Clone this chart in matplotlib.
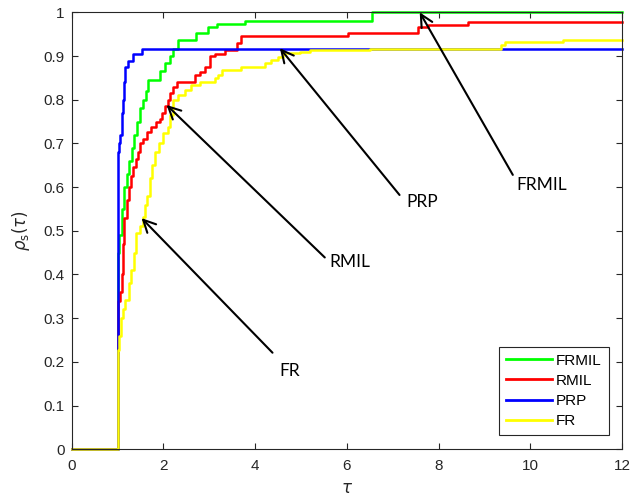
import matplotlib
matplotlib.use("Agg")
import matplotlib.pyplot as plt

# performance profile data (tau, rho), steps-post
frmil_tau = [0, 1.0, 1.04, 1.09, 1.15, 1.2, 1.25, 1.31, 1.36, 1.42, 1.49, 1.56, 1.62, 1.67,
             1.92, 2.03, 2.14, 2.21, 2.32, 2.72, 2.98, 3.16, 3.78, 6.56, 12]
frmil_rho = [0, 0.45, 0.49, 0.55, 0.60, 0.63, 0.66, 0.69, 0.72, 0.75, 0.78, 0.80, 0.82, 0.845,
             0.865, 0.883, 0.90, 0.915, 0.937, 0.952, 0.966, 0.973, 0.98, 1.0, 1.0]

rmil_tau = [0, 1.0, 1.06, 1.09, 1.11, 1.15, 1.2, 1.24, 1.29, 1.34, 1.4, 1.45, 1.5, 1.56, 1.65,
            1.74, 1.85, 1.92, 1.98, 2.03, 2.1, 2.14, 2.21, 2.29, 2.69, 2.8, 2.9, 3.01, 3.12,
            3.34, 3.6, 3.7, 6.03, 7.55, 7.77, 8.64, 12]
rmil_rho = [0, 0.34, 0.36, 0.40, 0.47, 0.53, 0.57, 0.60, 0.625, 0.647, 0.665, 0.68, 0.70, 0.71,
            0.725, 0.738, 0.75, 0.757, 0.77, 0.785, 0.80, 0.815, 0.83, 0.841, 0.857, 0.864,
            0.875, 0.90, 0.905, 0.914, 0.93, 0.946, 0.952, 0.966, 0.971, 0.978, 0.978]

prp_tau = [0, 1.0, 1.04, 1.06, 1.09, 1.1, 1.12, 1.14, 1.16, 1.22, 1.33, 1.525, 12]
prp_rho = [0, 0.68, 0.70, 0.72, 0.735, 0.77, 0.80, 0.84, 0.876, 0.889, 0.905, 0.917, 0.917]

fr_tau = [0, 1.0, 1.03, 1.07, 1.12, 1.17, 1.24, 1.29, 1.35, 1.41, 1.48, 1.55, 1.6, 1.65, 1.7,
          1.76, 1.82, 1.9, 2.0, 2.1, 2.14, 2.21, 2.32, 2.47, 2.61, 2.8, 3.12, 3.2, 3.27, 3.7,
          4.21, 4.35, 4.5, 4.6, 4.97, 5.19, 6.5, 9.37, 9.45, 10.71, 12]
fr_rho = [0, 0.227, 0.26, 0.30, 0.32, 0.342, 0.38, 0.41, 0.45, 0.495, 0.51, 0.532, 0.56, 0.58,
          0.62, 0.65, 0.68, 0.70, 0.723, 0.738, 0.765, 0.80, 0.81, 0.822, 0.833, 0.841, 0.849,
          0.857, 0.868, 0.875, 0.883, 0.89, 0.898, 0.906, 0.91, 0.914, 0.917, 0.925, 0.931,
          0.937, 0.937]

# arrows: label, tip, tail, text position
labels = ["FRMIL", "PRP", "RMIL", "FR"]
tips = [(7.59, 1.0), (4.54, 0.918), (2.07, 0.788), (1.525, 0.529)]
tails = [(9.62, 0.628), (7.15, 0.582), (5.52, 0.439), (4.38, 0.221)]
text_pos = [(9.70, 0.605), (7.31, 0.566), (5.61, 0.428), (4.54, 0.179)]

plt.rcParams['font.family'] = ['Liberation Sans', 'DejaVu Sans']
plt.rcParams['mathtext.fontset'] = 'dejavusans'

fig = plt.figure(figsize=(6.34, 5.03), dpi=100)
ax = fig.add_axes([0.113, 0.1068, 0.868, 0.8687])

ax.plot(frmil_tau, frmil_rho, drawstyle='steps-post', color=(0, 1, 0), lw=1.8, label='FRMIL', clip_on=False)
ax.plot(rmil_tau, rmil_rho, drawstyle='steps-post', color=(1, 0, 0), lw=1.8, label='RMIL', clip_on=False)
ax.plot(prp_tau, prp_rho, drawstyle='steps-post', color=(0, 0, 1), lw=1.8, label='PRP', clip_on=False)
ax.plot(fr_tau, fr_rho, drawstyle='steps-post', color=(1, 1, 0), lw=1.8, label='FR', clip_on=False)

for lab, tip, tail, tp in zip(labels, tips, tails, text_pos):
    ax.annotate('', xy=tip, xytext=tail,
                arrowprops=dict(arrowstyle='->', color='k', lw=1.5, mutation_scale=22,
                                shrinkA=0, shrinkB=0))
    ax.text(tp[0], tp[1], lab, family='Lato', fontsize=12.5, ha='left', va='center')

ax.set_xlim(0, 12)
ax.set_ylim(0, 1)
ax.set_xticks(range(0, 13, 2))
ax.set_yticks([i / 10 for i in range(11)])
ax.set_yticklabels(['0', '0.1', '0.2', '0.3', '0.4', '0.5', '0.6', '0.7', '0.8', '0.9', '1'])
ax.tick_params(direction='in', top=True, right=True, labelsize=11, colors='#262626',
               length=4, width=0.8)
ax.tick_params(axis='x', pad=7)
ax.tick_params(axis='y', pad=5)
for s in ax.spines.values():
    s.set_color('#262626')
    s.set_linewidth(0.8)

ax.set_xlabel(r'$\tau$', fontsize=12, color='#262626', labelpad=6)
ax.set_ylabel(r'$\rho_{\rm s}(\tau)$', fontsize=12, color='#262626', labelpad=8)

leg = ax.legend(loc='lower right', bbox_to_anchor=(0.976, 0.033), borderaxespad=0,
                fancybox=False, framealpha=1, edgecolor='#262626', fontsize=11,
                handlelength=3.0, handletextpad=0.3, labelspacing=0.4, borderpad=0.45)
leg.get_frame().set_linewidth(0.8)
for line in leg.get_lines():
    line.set_linewidth(2)

fig.savefig('out.png', dpi=100)
